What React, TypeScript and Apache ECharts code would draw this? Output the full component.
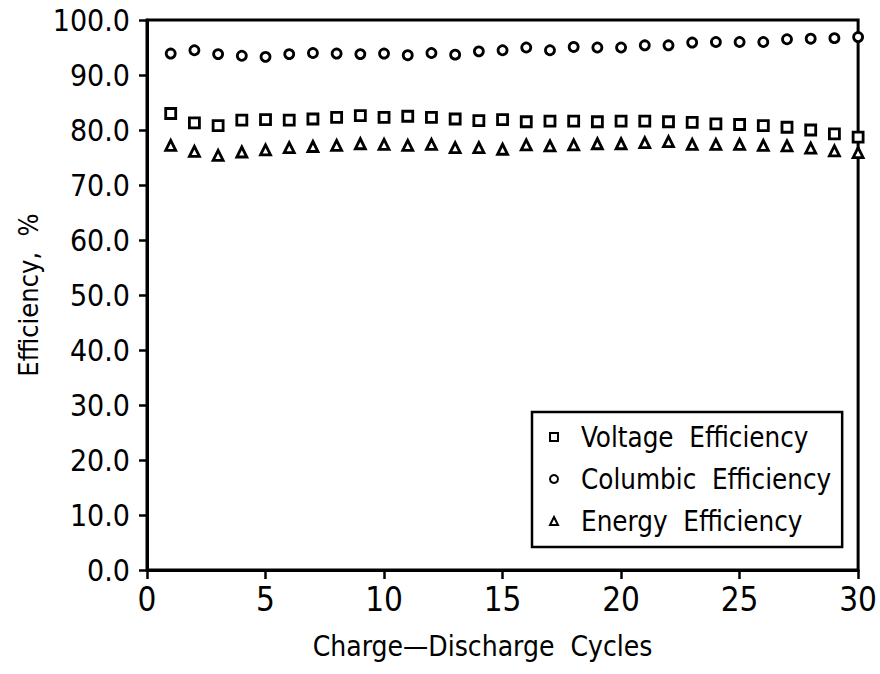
import React, { useEffect, useRef } from "react";
import * as echarts from "echarts";

const cycles = [1,2,3,4,5,6,7,8,9,10,11,12,13,14,15,16,17,18,19,20,21,22,23,24,25,26,27,28,29,30];
const voltage = [83.0,81.3,80.8,81.8,81.9,81.8,82.0,82.3,82.6,82.3,82.5,82.3,82.0,81.7,81.9,81.5,81.6,81.6,81.5,81.6,81.6,81.5,81.4,81.1,81.0,80.8,80.5,80.0,79.3,78.7];
const columbic = [93.9,94.5,93.8,93.5,93.3,93.8,94.0,93.9,93.8,93.9,93.6,94.0,93.7,94.3,94.5,95.0,94.5,95.1,95.0,95.0,95.4,95.4,95.9,96.0,96.0,96.0,96.5,96.6,96.7,96.9];
const energy = [77.2,76.1,75.4,76.0,76.4,76.8,77.0,77.2,77.5,77.4,77.2,77.4,76.8,76.8,76.5,77.3,77.1,77.3,77.5,77.5,77.7,77.9,77.4,77.4,77.4,77.2,77.1,76.7,76.2,75.9];
const seriesNames = ["Voltage Efficiency", "Columbic Efficiency", "Energy Efficiency"];
const yTicks = { min: 0, max: 100, interval: 10 };
const xTicks = { min: 0, max: 30, interval: 5 };

const NARROW = "'DejaVu Sans Condensed', 'Liberation Sans', sans-serif";

export default function App() {
  const ref = useRef<HTMLDivElement>(null);
  useEffect(() => {
    if (!ref.current) return;
    const chart = echarts.init(ref.current, null, { renderer: "svg" });
    const pts = (vals: number[]) => cycles.map((c, i) => [c, vals[i]]);
    const mk = (name: string, vals: number[], symbol: string, size: number) => ({
      name,
      type: "scatter",
      data: pts(vals),
      symbol,
      symbolSize: size,
      itemStyle: { color: "#fff", borderColor: "#000", borderWidth: 2.8, opacity: 1 },
      emphasis: { disabled: true },
    });
    chart.setOption({
      animation: false,
      backgroundColor: "#fff",
      grid: { left: 147, right: 18, top: 20, bottom: 104, show: true, borderColor: "#000", borderWidth: 3, backgroundColor: "transparent" },
      xAxis: {
        type: "value",
        ...xTicks,
        name: "Charge\u2014Discharge  Cycles",
        nameLocation: "middle",
        nameGap: 62,
        nameTextStyle: { fontFamily: NARROW, fontSize: 28, color: "#000", padding: [0, 40, 0, 0] },
        axisLine: { show: true, lineStyle: { color: "#000", width: 3 } },
        axisTick: { show: true, length: 9, inside: false, lineStyle: { color: "#000", width: 2.5 } },
        axisLabel: { fontFamily: NARROW, fontSize: 33, color: "#000", margin: 13 },
        splitLine: { show: false },
      },
      yAxis: {
        type: "value",
        ...yTicks,
        name: "Efficiency,  %",
        nameLocation: "middle",
        nameGap: 104,
        nameTextStyle: { fontFamily: NARROW, fontSize: 27, color: "#000" },
        axisLine: { show: true, lineStyle: { color: "#000", width: 3 } },
        axisTick: { show: true, length: 8, inside: false, lineStyle: { color: "#000", width: 2.5 } },
        axisLabel: { fontFamily: NARROW, fontSize: 30, color: "#000", margin: 17, formatter: (v: number) => v.toFixed(1) },
        splitLine: { show: false },
      },
      legend: {
        orient: "vertical",
        left: 532,
        top: 412,
        data: seriesNames,
        borderColor: "#000",
        borderWidth: 2.5,
        borderRadius: 0,
        padding: [11, 11, 12, 17],
        itemGap: 14,
        itemWidth: 8,
        itemHeight: 8,
        selectedMode: false,
        itemStyle: { borderWidth: 2 },
        textStyle: { fontFamily: NARROW, fontSize: 27.5, color: "#000", padding: [0, 0, 0, 18] },
        formatter: (n: string) => n.replace(" ", "  "),
      },
      series: [
        mk(seriesNames[0], voltage, "rect", 10),
        mk(seriesNames[1], columbic, "circle", 9),
        mk(seriesNames[2], energy, "triangle", 10),
      ],
    });
    return () => chart.dispose();
  }, []);
  return <div ref={ref} style={{ position: "fixed", left: 0, top: 0, width: 880, height: 674, background: "#fff" }} />;
}
